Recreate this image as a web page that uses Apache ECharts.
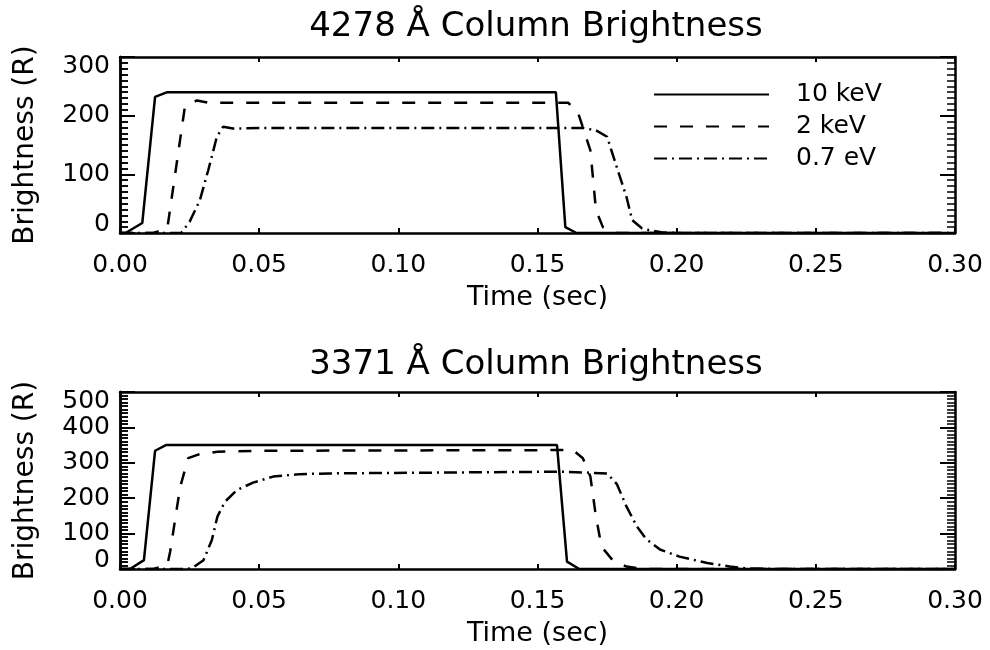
<!DOCTYPE html>
<html>
<head>
<meta charset="utf-8">
<script src="https://cdn.jsdelivr.net/npm/echarts@6/dist/echarts.min.js"></script>
<style>
html,body{margin:0;padding:0;background:#fff;}
#chart{width:990px;height:650px;}
</style>
</head>
<body>
<div id="chart"></div>
<script>
// ---- Data ----
const titles = ['4278 Å Column Brightness', '3371 Å Column Brightness'];
const seriesNames = ['10 keV', '2 keV', '0.7 eV'];
const xTicks = [0.00, 0.05, 0.10, 0.15, 0.20, 0.25, 0.30];
const yTicksTop = [0, 100, 200, 300];
const yTicksBottom = [0, 100, 200, 300, 400, 500];

// 4278 Å panel
const t4278_10keV = [0, 0.002, 0.008, 0.0126, 0.017, 0.1566, 0.160, 0.164, 0.30];
const b4278_10keV = [0, 0, 17, 232, 240, 240, 10, 0, 0];
const t4278_2keV = [0, 0.012, 0.017, 0.0233, 0.0276, 0.032, 0.161, 0.1645, 0.169, 0.171, 0.1735, 0.1785, 0.30];
const b4278_2keV = [0, 0, 8, 215, 226, 222, 222, 206, 141, 39, 10, 0, 0];
const t4278_07eV = [0, 0.022, 0.025, 0.0287, 0.0317, 0.0348, 0.037, 0.0406, 0.05, 0.1663, 0.171, 0.175, 0.1785, 0.182, 0.184, 0.1875, 0.19, 0.195, 0.20, 0.30];
const b4278_07eV = [0, 0, 19, 56, 107, 164, 181, 178, 179, 179, 175, 164, 112, 61, 22, 8, 5, 1, 0, 0];

// 3371 Å panel
const t3371_10keV = [0, 0.0036, 0.0086, 0.0126, 0.0165, 0.157, 0.1606, 0.165, 0.30];
const b3371_10keV = [0, 0, 25, 334, 350, 350, 21, 0, 0];
const t3371_2keV = [0, 0.012, 0.017, 0.018, 0.0216, 0.0245, 0.0287, 0.035, 0.05, 0.1627, 0.1663, 0.169, 0.171, 0.173, 0.177, 0.182, 0.188, 0.30];
const b3371_2keV = [0, 0, 11, 48, 231, 313, 325, 331, 334, 336, 313, 261, 148, 63, 25, 7, 0, 0];
const t3371_07eV = [0, 0.024, 0.026, 0.030, 0.033, 0.035, 0.0377, 0.042, 0.0478, 0.055, 0.0646, 0.0754, 0.159, 0.175, 0.1785, 0.182, 0.1857, 0.189, 0.194, 0.201, 0.211, 0.219, 0.225, 0.235, 0.30];
const b3371_07eV = [0, 0, 3, 25, 82, 148, 190, 223, 244, 261, 268, 270, 275, 270, 240, 176, 120, 85, 55, 35, 17, 7, 2, 0, 0];

// ---- Build ----
const FONT = 'DejaVu Sans';
const zip = (t, b) => t.map((v, i) => [v, b[i]]);
const dashes = ['solid', [13, 13], [13, 5, 2, 5]];

const chart = echarts.init(document.getElementById('chart'), null, {renderer: 'canvas'});

function xAxes(gridIndex) {
  const xs = xTicks;
  return [
    {
      type: 'value', gridIndex: gridIndex, position: 'bottom',
      min: xs[0], max: xs[xs.length - 1], interval: 0.05,
      name: 'Time (sec)', nameLocation: 'middle', nameGap: 51,
      nameTextStyle: {fontFamily: FONT, fontSize: 27, color: '#000'},
      axisLine: {show: true, onZero: false, lineStyle: {color: '#000', width: 2.5}},
      axisTick: {show: true, inside: true, length: 5, lineStyle: {color: '#000', width: 2}},
      axisLabel: {show: true, margin: 20, fontFamily: FONT, fontSize: 25, color: '#000',
        formatter: v => v.toFixed(2)},
      splitLine: {show: false}
    },
    {
      type: 'value', gridIndex: gridIndex, position: 'top',
      min: xs[0], max: xs[xs.length - 1], interval: 0.05,
      axisLine: {show: true, onZero: false, lineStyle: {color: '#000', width: 2.5}},
      axisTick: {show: true, inside: true, length: 5, lineStyle: {color: '#000', width: 2}},
      axisLabel: {show: false},
      splitLine: {show: false}
    }
  ];
}

function yAxes(gridIndex, ticks) {
  const base = {
    type: 'value', gridIndex: gridIndex,
    min: ticks[0], max: ticks[ticks.length - 1], interval: 100,
    axisLine: {show: true, onZero: false, lineStyle: {color: '#000', width: 2.5}},
    axisTick: {show: true, inside: true, length: 15, lineStyle: {color: '#000', width: 2}},
    minorTick: {show: true, splitNumber: 10, length: 8, lineStyle: {color: '#000', width: 1.5}},
    splitLine: {show: false},
    minorSplitLine: {show: false}
  };
  return [
    Object.assign({}, base, {
      position: 'left',
      name: 'Brightness (R)', nameLocation: 'middle', nameGap: 80,
      nameTextStyle: {fontFamily: FONT, fontSize: 28, color: '#000'},
      axisLabel: {show: true, margin: 10, fontFamily: FONT, fontSize: 25, lineHeight: 18, color: '#000',
        showMinLabel: true, showMaxLabel: true, hideOverlap: false,
        verticalAlignMinLabel: 'bottom', verticalAlignMaxLabel: 'top'}
    }),
    Object.assign({}, base, {
      position: 'right',
      axisLabel: {show: false}
    }),
    Object.assign({}, base, {
      position: 'left',
      axisLabel: {show: false}
    })
  ];
}

const panels = [
  [zip(t4278_10keV, b4278_10keV), zip(t4278_2keV, b4278_2keV), zip(t4278_07eV, b4278_07eV)],
  [zip(t3371_10keV, b3371_10keV), zip(t3371_2keV, b3371_2keV), zip(t3371_07eV, b3371_07eV)]
];

const series = [];
panels.forEach((panel, p) => {
  panel.forEach((data, i) => {
    series.push({
      type: 'line', name: seriesNames[i],
      xAxisIndex: p * 2, yAxisIndex: p * 3,
      data: data, symbol: 'none', showSymbol: false, smooth: false,
      clip: true, animation: false,
      lineStyle: {color: '#000', width: 2.5, type: dashes[i], cap: 'butt'},
      itemStyle: {color: '#000'}
    });
  });
});

const option = {
  backgroundColor: '#fff',
  animation: false,
  title: [
    {text: titles[0], left: 536, top: 10, textAlign: 'center', padding: 0,
      textStyle: {fontFamily: FONT, fontSize: 34, fontWeight: 'normal', color: '#000'}},
    {text: titles[1], left: 536, top: 348, textAlign: 'center', padding: 0,
      textStyle: {fontFamily: FONT, fontSize: 34, fontWeight: 'normal', color: '#000'}}
  ],
  legend: {
    show: true, orient: 'vertical', left: 653, top: 82,
    data: seriesNames, itemWidth: 115, itemHeight: 14, itemGap: 7,
    padding: 0,
    itemStyle: {opacity: 0},
    textStyle: {fontFamily: FONT, fontSize: 25, color: '#000', lineHeight: 25, padding: [0, 0, 0, 22]},
    selectedMode: false
  },
  grid: [
    {left: 120, right: 35, top: 57, height: 176, containLabel: false},
    {left: 120, right: 35, top: 392, height: 177, containLabel: false}
  ],
  xAxis: xAxes(0).concat(xAxes(1)),
  yAxis: yAxes(0, yTicksTop).concat(yAxes(1, yTicksBottom)),
  series: series
};

chart.setOption(option);
</script>
</body>
</html>
